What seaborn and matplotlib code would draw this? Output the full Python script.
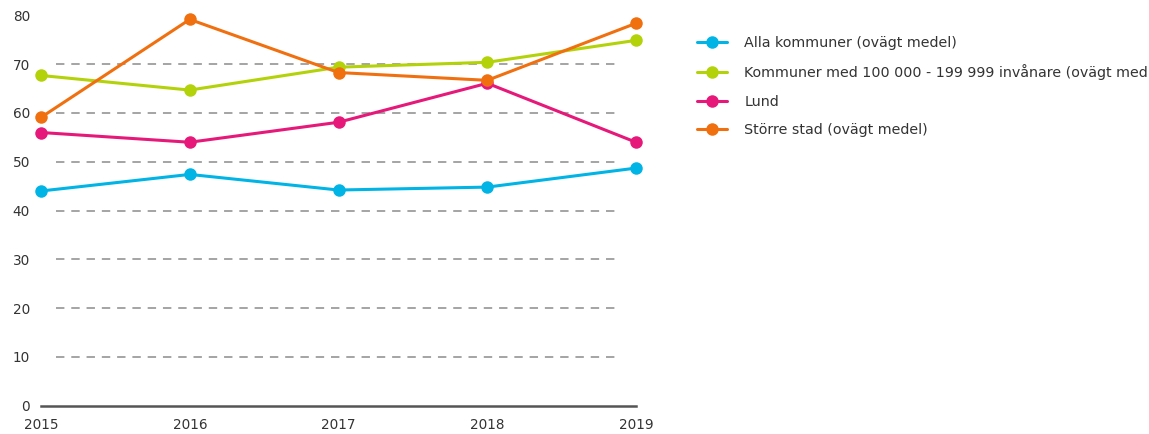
import matplotlib
matplotlib.use("Agg")
import matplotlib.pyplot as plt
import seaborn as sns
import pandas as pd

years = [2015, 2016, 2017, 2018, 2019]

alla_kommuner = [44.0, 47.4, 44.2, 44.8, 48.7]
kommuner_100k = [67.7, 64.7, 69.4, 70.4, 74.9]
lund = [56.0, 54.0, 58.1, 66.1, 54.0]
storre_stad = [59.1, 79.2, 68.3, 66.7, 78.4]

series_names = [
    "Alla kommuner (ovägt medel)",
    "Kommuner med 100 000 - 199 999 invånare (ovägt med",
    "Lund",
    "Större stad (ovägt medel)",
]
series_values = [alla_kommuner, kommuner_100k, lund, storre_stad]
colors = ["#00b4e6", "#b4d20a", "#e6197a", "#f07010"]

y_ticks = [0, 10, 20, 30, 40, 50, 60, 70, 80]

# ----------------------------
# long-form table
# ----------------------------

rows = []
for name, vals in zip(series_names, series_values):
    for yr, v in zip(years, vals):
        rows.append({"year": yr, "value": v, "series": name})
df = pd.DataFrame(rows)

sns.set_style("white")
plt.rcParams["font.family"] = ["DejaVu Sans"]

fig = plt.figure(figsize=(11.49, 4.34), dpi=100)
ax = fig.add_axes([41 / 1149, 1 - 405.5 / 434, (636 - 41) / 1149, (405.5 - 15.5) / 434])

# dashed gridlines (not at 0 or 80)
for t in y_ticks[1:-1]:
    ax.axhline(t, xmin=0.025, xmax=0.975, color="#8c8c8c", lw=1.1,
               ls=(0, (5.5, 4.5)), zorder=0)

sns.lineplot(
    data=df,
    x="year",
    y="value",
    hue="series",
    hue_order=series_names,
    palette=dict(zip(series_names, colors)),
    marker="o",
    markersize=9,
    markeredgewidth=0,
    linewidth=2.2,
    ax=ax,
    clip_on=False,
    zorder=3,
)

ax.set_xlim(2015, 2019)
ax.set_ylim(0, 80)
ax.set_xticks(years)
ax.set_xticklabels([str(y) for y in years])
ax.set_yticks(y_ticks)
ax.set_xlabel("")
ax.set_ylabel("")

for side in ["top", "right", "left"]:
    ax.spines[side].set_visible(False)
ax.spines["bottom"].set_color("#555555")
ax.spines["bottom"].set_linewidth(1.8)

ax.tick_params(axis="x", length=5, width=1.2, color="#555555", pad=4,
               labelsize=9.8, labelcolor="#333333")
ax.tick_params(axis="y", length=0, pad=8, labelsize=9.8, labelcolor="#333333")

handles, labels = ax.get_legend_handles_labels()
ax.legend(
    handles,
    labels,
    loc="upper left",
    bbox_to_anchor=(697 / 1149, 1 - 36 / 434),
    bbox_transform=fig.transFigure,
    frameon=False,
    fontsize=10.3,
    handlelength=2.1,
    handletextpad=1.2,
    labelspacing=1.0,
    borderpad=0,
    borderaxespad=0,
    labelcolor="#333333",
)

fig.savefig("out.png", dpi=100)
plt.close(fig)
